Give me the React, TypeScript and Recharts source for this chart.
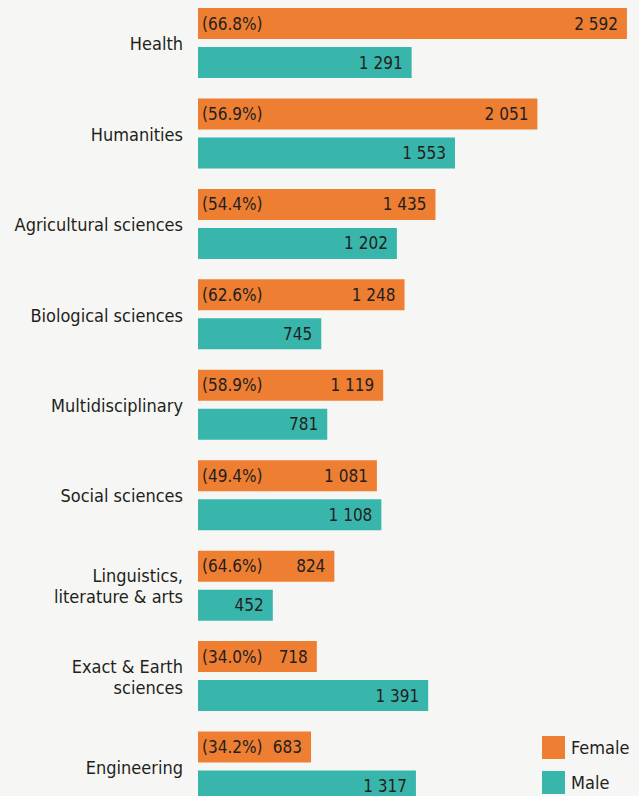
import { BarChart, Bar, XAxis, YAxis, LabelList, Legend } from "recharts";

const categories = [
  "Health",
  "Humanities",
  "Agricultural sciences",
  "Biological sciences",
  "Multidisciplinary",
  "Social sciences",
  "Linguistics,\nliterature & arts",
  "Exact & Earth\nsciences",
  "Engineering",
];
const female = [2592, 2051, 1435, 1248, 1119, 1081, 824, 718, 683];
const male = [1291, 1553, 1202, 745, 781, 1108, 452, 1391, 1317];
const femaleShare = [66.8, 56.9, 54.4, 62.6, 58.9, 49.4, 64.6, 34.0, 34.2];

const ORANGE = "#EE7E32";
const TEAL = "#38B6AB";
const TEXT = "#231f20";
const FONT =
  "'DejaVu Sans Condensed', 'Liberation Sans Narrow', 'DejaVu Sans', sans-serif";

const chartData = categories.map((name, i) => ({
  name,
  female: female[i],
  male: male[i],
  share: femaleShare[i],
}));

const fmt = (v: number) => String(v).replace(/\B(?=(\d{3})+(?!\d))/g, " ");

const labelStyle = {
  fontFamily: FONT,
  fontStretch: "condensed",
  fontSize: 17,
  fill: TEXT,
};

function CategoryTick(props: any) {
  const { x, y, payload } = props;
  const lines = String(payload.value).split("\n");
  const lh = 21;
  return (
    <text
      x={x}
      y={y}
      textAnchor="end"
      dominantBaseline="central"
      fill={TEXT}
      fontSize={18}
      style={{ fontFamily: FONT, fontStretch: "condensed" }}
    >
      {lines.map((l, i) => (
        <tspan key={i} x={x} dy={i === 0 ? -((lines.length - 1) * lh) / 2 : lh}>
          {l}
        </tspan>
      ))}
    </text>
  );
}

function LegendBox(props: any) {
  const { payload } = props;
  return (
    <div style={{ fontFamily: FONT, fontStretch: "condensed" }}>
      {(payload || []).map((p: any) => (
        <div
          key={p.value}
          style={{ display: "flex", alignItems: "center", height: 23, marginBottom: 12 }}
        >
          <span
            style={{ width: 23, height: 23, background: p.color, display: "inline-block" }}
          />
          <span style={{ marginLeft: 6, fontSize: 18, color: TEXT }}>{p.value}</span>
        </div>
      ))}
    </div>
  );
}

export default function App() {
  return (
    <div
      style={{
        position: "fixed",
        left: 0,
        top: 0,
        width: 639,
        height: 796,
        overflow: "hidden",
        background: "#F6F6F4",
      }}
    >
      <div style={{ position: "absolute", left: 0, top: -2 }}>
        <BarChart
          width={639}
          height={814}
          data={chartData}
          layout="vertical"
          margin={{ top: 0, right: 0, bottom: 0, left: 0 }}
          barSize={31}
          barGap={8}
        >
          <XAxis type="number" domain={[0, 2665]} hide />
          <YAxis
            type="category"
            dataKey="name"
            width={198}
            axisLine={false}
            tickLine={false}
            tickSize={0}
            tickMargin={15}
            interval={0}
            tick={<CategoryTick />}
          />
          <Legend
            layout="horizontal"
            align="center"
            verticalAlign="middle"
            content={<LegendBox />}
            wrapperStyle={{ position: "absolute", left: 542, top: 738, width: 100 }}
          />
          <Bar dataKey="female" name="Female" fill={ORANGE} isAnimationActive={false}>
            <LabelList
              dataKey="share"
              position="insideLeft"
              offset={4}
              formatter={(v: any) => `(${Number(v).toFixed(1)}%)`}
              style={labelStyle}
            />
            <LabelList
              dataKey="female"
              position="insideRight"
              offset={9}
              formatter={(v: any) => fmt(Number(v))}
              style={labelStyle}
            />
          </Bar>
          <Bar dataKey="male" name="Male" fill={TEAL} isAnimationActive={false}>
            <LabelList
              dataKey="male"
              position="insideRight"
              offset={9}
              formatter={(v: any) => fmt(Number(v))}
              style={labelStyle}
            />
          </Bar>
        </BarChart>
      </div>
    </div>
  );
}
